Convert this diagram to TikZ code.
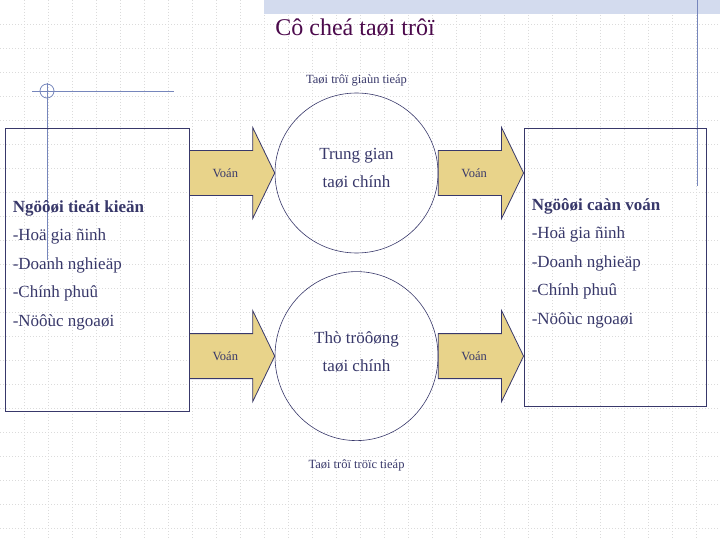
\documentclass[tikz,border=0pt]{standalone}
\usepackage{fontspec}
\setmainfont{Liberation Serif}
\usetikzlibrary{positioning, shapes.geometric, calc}
\definecolor{inkblue}{HTML}{38386A}
\definecolor{titlecol}{HTML}{4C0A4C}
\definecolor{voncol}{HTML}{E8D38A}
\definecolor{decocol}{HTML}{7686BC}
\definecolor{bandcol}{HTML}{D3DBEE}
\tikzset{
  gridline/.style={gray!28, line width=0.6pt, dash pattern=on 1pt off 2pt},
  deco/.style={draw=decocol, line width=0.8pt},
  holder/.style={rectangle, draw=inkblue, line width=0.9pt, minimum width=184pt, minimum height=283pt},
  market/.style={ellipse, draw=inkblue, line width=0.6pt, minimum width=163pt, minimum height=160pt},
  circtext/.style={align=center, text=inkblue, font=\fontsize{17}{28}\selectfont},
  listtext/.style={align=left, anchor=west, inner sep=0pt, text=inkblue, font=\fontsize{17}{28.5}\selectfont},
  flowlabel/.style={text=inkblue, font=\fontsize{12.5}{14}\selectfont},
  blockarr/.style={fill=voncol, draw=inkblue, line width=0.8pt, line join=miter,
    to path={($(\tikztostart)+(0,-22.5)$) -- ($(\tikztotarget)+(-22,-22.5)$)
      -- ($(\tikztotarget)+(-22,-45.5)$) -- (\tikztotarget)
      -- ($(\tikztotarget)+(-22,45.5)$) -- ($(\tikztotarget)+(-22,22.5)$)
      -- ($(\tikztostart)+(0,22.5)$) -- cycle}}
}
\begin{document}
\begin{tikzpicture}[x=1pt, y=-1pt]
    \useasboundingbox[fill=white] (0,0) rectangle (720,540);
    \foreach \gx in {24,48,...,696} \draw[gridline] (\gx,0) -- (\gx,540);
    \foreach \gy in {24,48,...,528} \draw[gridline] (0,\gy) -- (720,\gy);
    \fill[bandcol] (264,0) rectangle (720,14);
    \draw[deco] (32,91) -- (174,91);
    \draw[deco] (47,83) -- (47,260);
    \draw[deco] (47,91) circle[radius=7];
    \draw[deco] (697,0) -- (697,186);

    \node[font=\fontsize{24}{28}\selectfont, text=titlecol] (title) at (355,28) {Cô cheá taøi trôï};
    \node[holder] (lbox) at (97,269.5) {};
    \node[holder, minimum width=182pt, minimum height=278pt] (rbox) at (615,267) {};
    \node[market] (tg) at (356.5,173) {};
    \node[market, minimum height=169pt, below=18pt of tg] (tt) {};
    \node[flowlabel, above=3pt of tg] (gian) {Taøi trôï giaùn tieáp};
    \node[flowlabel, below=15.5pt of tt] (truc) {Taøi trôï tröïc tieáp};
    \node[circtext] (tgtext) at ([yshift=5pt]tg.center) {Trung gian\\taøi chính};
    \node[circtext] (tttext) at ([yshift=4.5pt]tt.center) {Thò tröôøng\\taøi chính};
    \node[listtext] (ltext) at ([xshift=8pt, yshift=4.5pt]lbox.west)
        {\textbf{Ngöôøi tieát kieän}\\-Hoä gia ñinh\\-Doanh nghieäp\\-Chính phuû\\-Nöôùc ngoaøi};
    \node[listtext] (rtext) at ([xshift=8pt, yshift=4pt]rbox.west)
        {\textbf{Ngöôøi caàn voán}\\-Hoä gia ñinh\\-Doanh nghieäp\\-Chính phuû\\-Nöôùc ngoaøi};

    \coordinate (a1) at (lbox.east |- tg.west);
    \coordinate (a2) at (lbox.east |- tt.west);
    \coordinate (b1) at (rbox.west |- tg.east);
    \coordinate (b2) at (rbox.west |- tt.east);
    \draw[blockarr] (a1) to (tg.west);
    \draw[blockarr] (a2) to (tt.west);
    \draw[blockarr] (tg.east) to (b1);
    \draw[blockarr] (tt.east) to (b2);
    \node[flowlabel] (v1) at ($(a1)!.42!(tg.west)$) {Voán};
    \node[flowlabel] (v2) at ($(a2)!.42!(tt.west)$) {Voán};
    \node[flowlabel] (v3) at ($(tg.east)!.42!(b1)$) {Voán};
    \node[flowlabel] (v4) at ($(tt.east)!.42!(b2)$) {Voán};
\end{tikzpicture}
\end{document}
